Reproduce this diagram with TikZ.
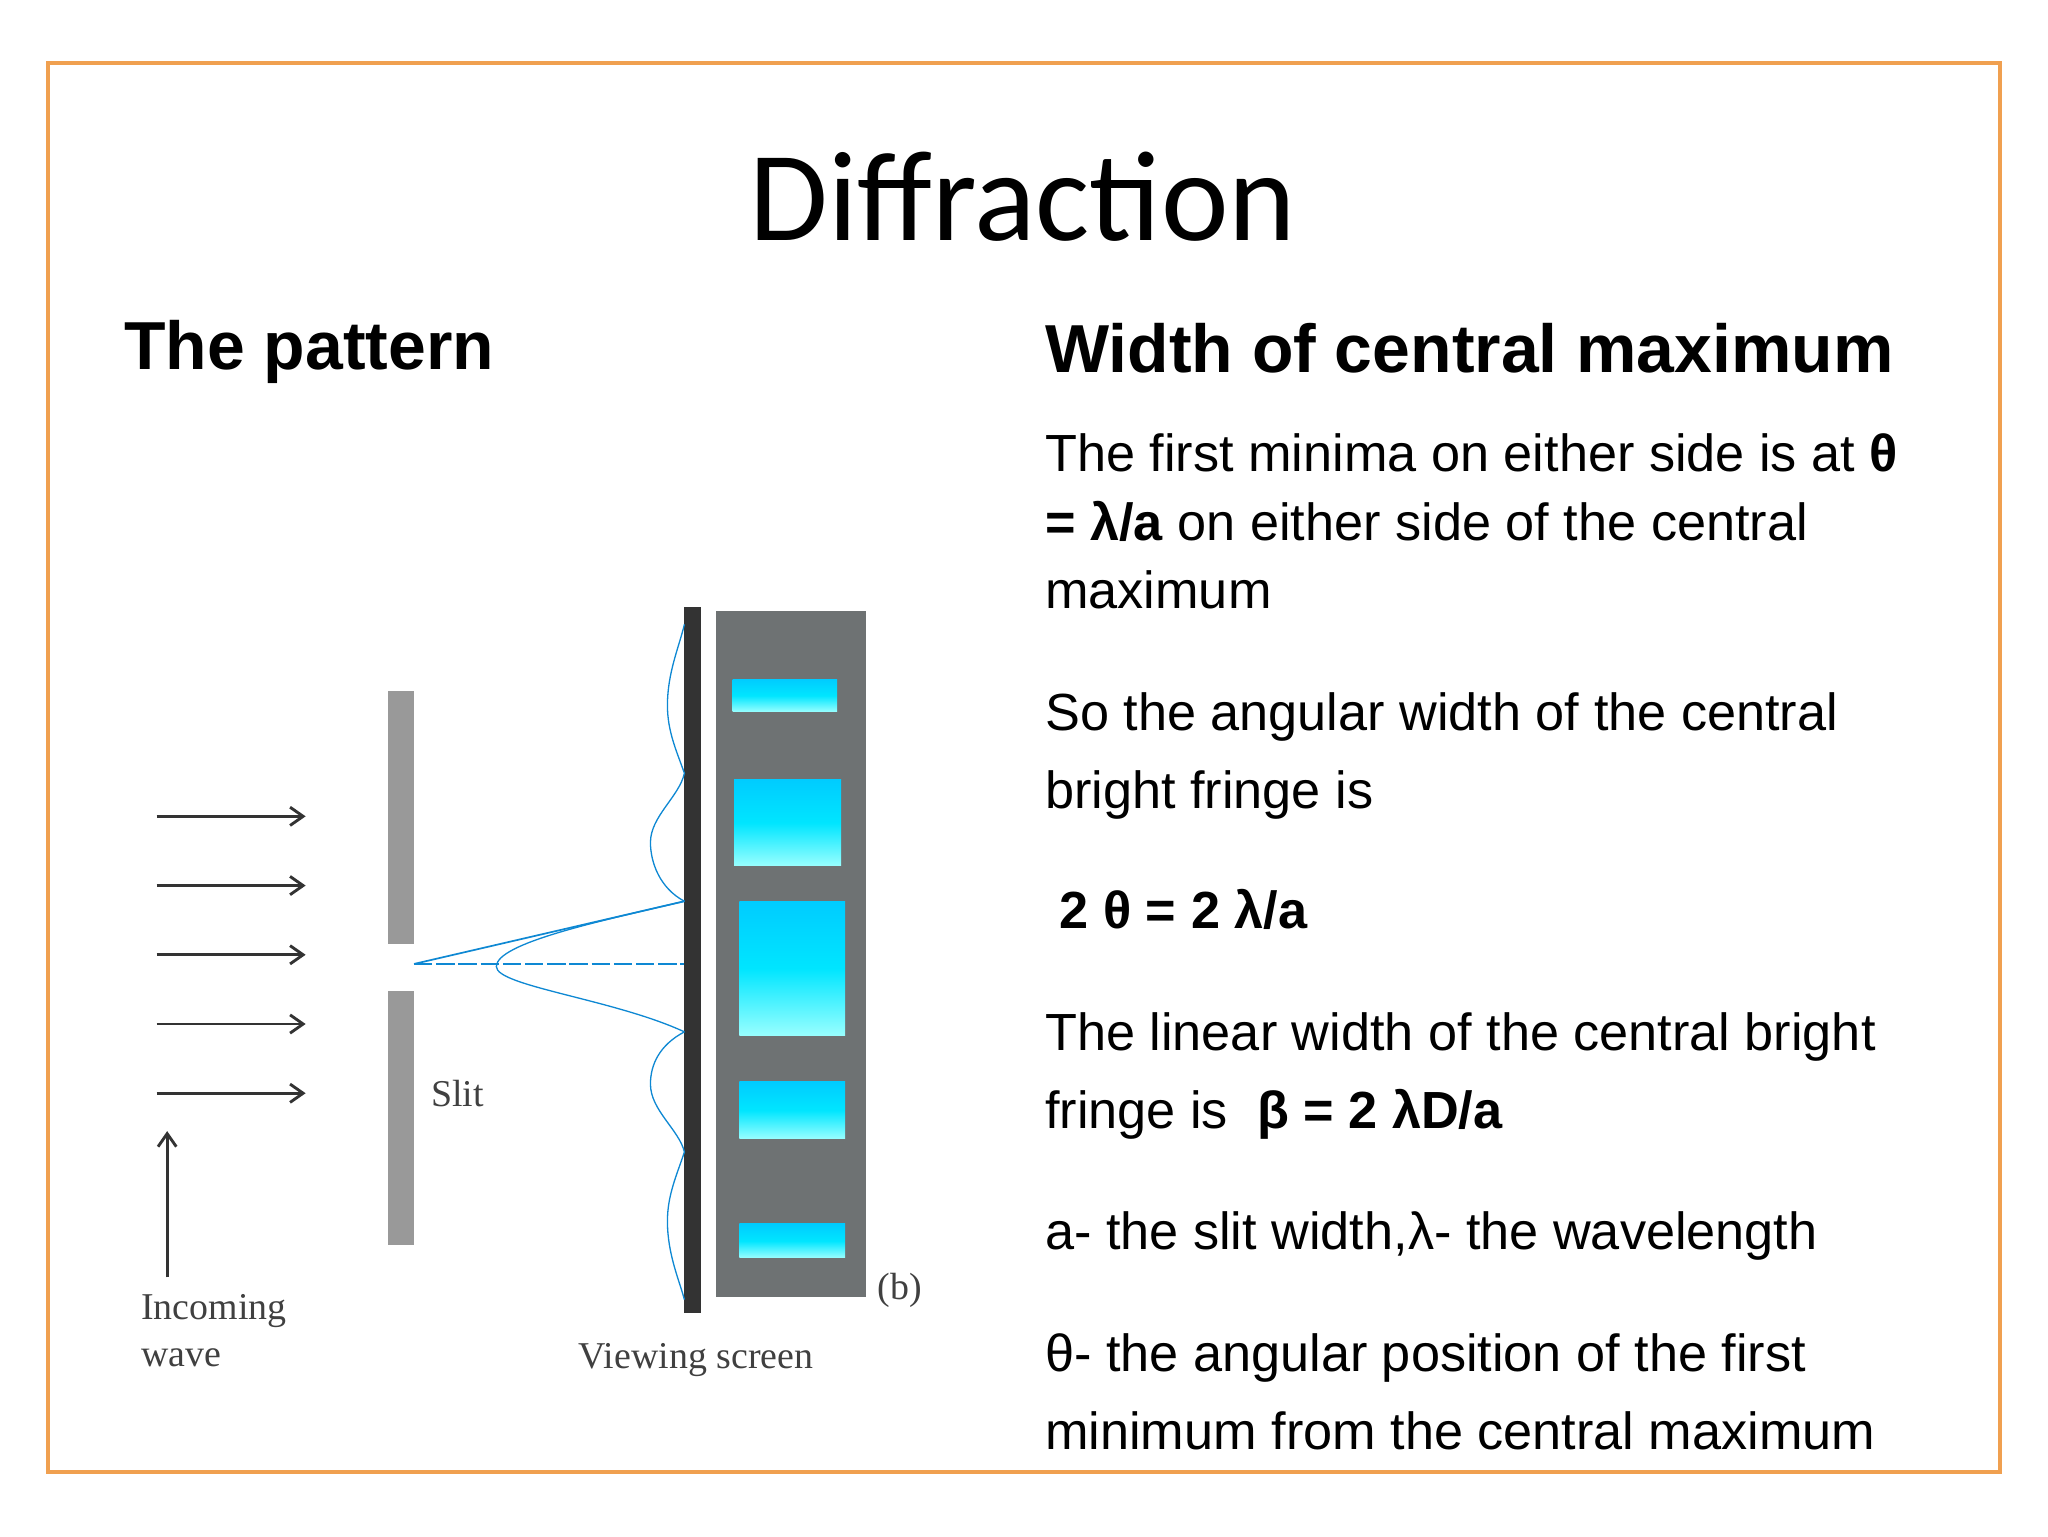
\documentclass[tikz,border=0pt]{standalone}
\usepackage{fontspec}
\usetikzlibrary{arrows.meta}
\setmainfont{Liberation Sans}
\newfontfamily\titlefont{Carlito}
\newfontfamily\labfont{Liberation Serif}
\definecolor{frameor}{RGB}{240,160,80}
\definecolor{panelgray}{RGB}{110,114,115}
\begin{document}
\begin{tikzpicture}[x=1pt,y=-1pt,
  body/.style={anchor=base west,inner sep=0pt,font=\fontsize{40}{48}\selectfont},
  head/.style={anchor=base west,inner sep=0pt,font=\fontsize{52}{60}\selectfont\bfseries},
  lab/.style={anchor=base west,inner sep=0pt,text=black!75,font=\labfont\fontsize{29}{34}\selectfont},
  ray/.style={draw=cyan!70!blue,line width=1.3pt},
  inc/.style={draw=black!80,line width=2.2pt,-{Straight Barb[length=10pt,width=14pt]}}]
\useasboundingbox (0,0) rectangle (1568,1176);
\fill[white] (0,0) rectangle (1568,1176);
\draw[draw=frameor,line width=3pt] (37,48) rectangle (1531,1127);
\node[inner sep=0pt,anchor=base,font=\titlefont\fontsize{98}{110}\selectfont] (title) at (783,184) {Diffraction};
\node[head] (h1) at (95,283) {The pattern};
\node[head] (h2) at (800,285) {Width of central maximum};
\node[body] (t1) at (800,361) {The first minima on either side is at \textbf{θ}};
\node[body] (t2) at (800,414) {\textbf{= λ/a} on either side of the central};
\node[body] (t3) at (800,466) {maximum};
\node[body] (t4) at (800,559) {So the angular width of the central};
\node[body] (t5) at (800,619) {bright fringe is};
\node[body] (t6) at (800,711) {\textbf{\ 2 θ = 2 λ/a}};
\node[body] (t7) at (800,804) {The linear width of the central bright};
\node[body] (t8) at (800,864) {fringe is \ \textbf{β = 2 λD/a}};
\node[body] (t9) at (800,957) {a- the slit width,λ- the wavelength};
\node[body] (t10) at (800,1050) {θ- the angular position of the first};
\node[body] (t11) at (800,1110) {minimum from the central maximum};
% slit
\fill[black!40] (297,529) rectangle (317,723);
\fill[black!40] (297,759) rectangle (317,953);
\foreach \yy/\nm in {625/a1,678/a2,731/a3,784/a4,837/a5}{
  \coordinate (\nm s) at (120,\yy); \coordinate (\nm e) at (234,\yy);
  \draw[inc] (\nm s) -- (\nm e);}
\coordinate (ups) at (128,978); \coordinate (upe) at (128,866);
\draw[inc] (ups) -- (upe);
\node[lab] (inc1) at (108,1010) {Incoming};
\node[lab] (inc2) at (108,1046) {wave};
\node[lab] (slit) at (330,847) {Slit};
\node[lab] (bb) at (672,995) {(b)};
\node[lab] (vs) at (443,1048) {Viewing screen};
% screen
\fill[black!80] (524,465) rectangle (537,1005);
\fill[panelgray] (548,468) rectangle (663,993);
\foreach \a/\b/\c/\d in {561/520/641/545,562/597/644/663,566/690/647/793,566/828/647/872,566/937/647/963}{
  \shade[top color=cyan!80!blue,bottom color=cyan!40!white,middle color=cyan!90!blue] (\a,\b) rectangle (\c,\d);}
% rays
\coordinate (sl) at (317,738);
\coordinate (top) at (524,690);
\coordinate (bot) at (524,790);
\coordinate (mid) at (524,738);
\draw[ray] (sl) -- (top);
\draw[ray,dash pattern=on 14pt off 3pt] (sl) -- (mid);
\draw[ray,line width=1pt] (top) .. controls (460,705) and (380,722) .. (380,740)
  .. controls (380,755) and (470,765) .. (bot);
\draw[ray,line width=1pt] (top) .. controls (505,680) and (498,660) .. (498,645)
  .. controls (498,625) and (520,610) .. (524,592)
  .. controls (518,575) and (511,560) .. (511,540)
  .. controls (511,515) and (520,495) .. (524,478);
\draw[ray,line width=1pt] (bot) .. controls (505,800) and (498,815) .. (498,830)
  .. controls (498,850) and (520,865) .. (524,882)
  .. controls (518,900) and (511,915) .. (511,935)
  .. controls (511,960) and (520,980) .. (524,995);
\end{tikzpicture}
\end{document}
